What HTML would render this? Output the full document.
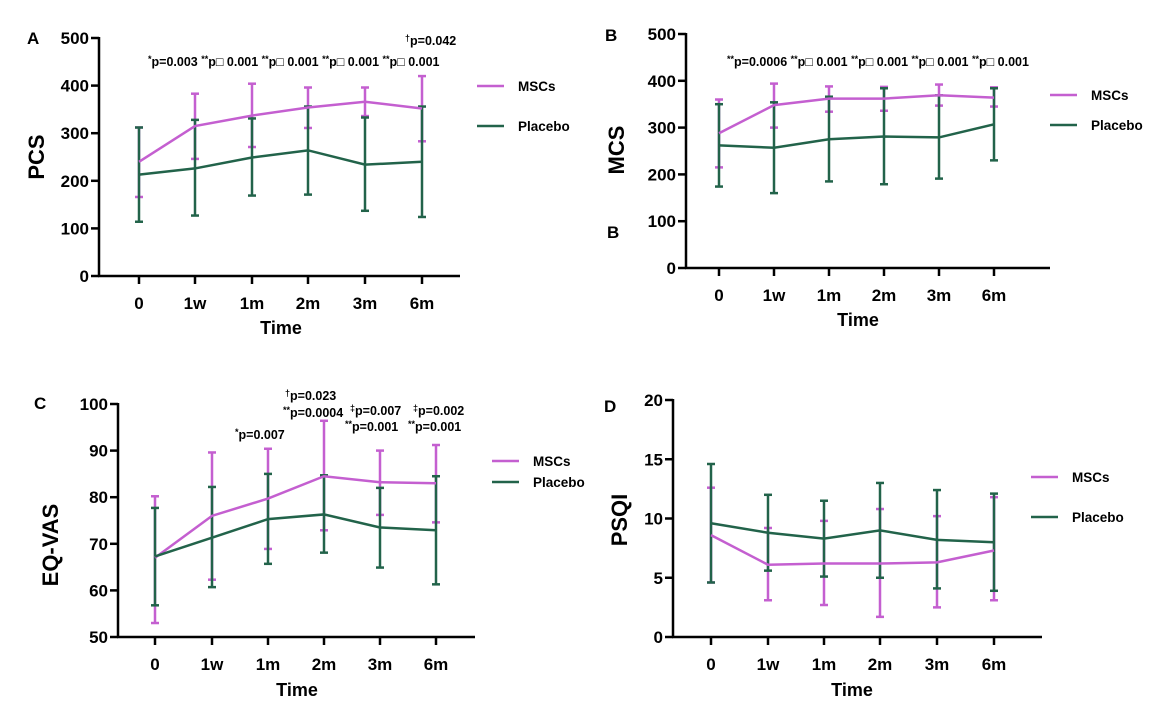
<!DOCTYPE html>
<html><head><meta charset="utf-8">
<style>
html,body{margin:0;padding:0;background:#fff;}
svg{display:block;font-family:"Liberation Sans",Arial,sans-serif;}
.t{font-weight:bold;font-size:17px;}
.p{font-family:"Liberation Sans Narrow","Liberation Sans",sans-serif;font-size:12.5px;font-weight:bold;}
</style></head>
<body>
<svg id="s" width="1162" height="722" viewBox="0 0 1162 722" xmlns="http://www.w3.org/2000/svg"></svg>
<script>
const S=document.getElementById('s');let h='';
const M='#c45fd0',P='#22634a';
function panel(o){
 const {ax,ytop,ybot,ymax,ymin,yt,xs,xend,m,p,lab,lx,ly,yl,ylx,yly,tx,ty,lgx,lgy1,lgy2}=o;
 const Y=v=>ybot-(v-ymin)/(ymax-ymin)*(ybot-ytop);
 h+=`<line x1="${ax}" y1="${ytop-1}" x2="${ax}" y2="${ybot+1}" stroke="#000" stroke-width="2.5"/>`;
 h+=`<line x1="${ax-1}" y1="${ybot}" x2="${xend}" y2="${ybot}" stroke="#000" stroke-width="2.5"/>`;
 yt.forEach(v=>{const y=Y(v);h+=`<line x1="${ax-8}" y1="${y}" x2="${ax}" y2="${y}" stroke="#000" stroke-width="2.5"/><text class="t" x="${ax-10}" y="${y+6}" text-anchor="end">${v}</text>`;});
 const L=['0','1w','1m','2m','3m','6m'];
 xs.forEach((x,i)=>{h+=`<line x1="${x}" y1="${ybot}" x2="${x}" y2="${ybot+8}" stroke="#000" stroke-width="2.5"/><text class="t" x="${x}" y="${ybot+33}" text-anchor="middle">${L[i]}</text>`;});
 [[m,M],[p,P]].forEach(([d,c])=>{
  d[0].forEach((v,i)=>{const x=xs[i];h+=`<line x1="${x}" y1="${Y(d[1][i])}" x2="${x}" y2="${Y(d[2][i])}" stroke="${c}" stroke-width="2.5"/><line x1="${x-4}" y1="${Y(d[1][i])}" x2="${x+4}" y2="${Y(d[1][i])}" stroke="${c}" stroke-width="2.5"/><line x1="${x-4}" y1="${Y(d[2][i])}" x2="${x+4}" y2="${Y(d[2][i])}" stroke="${c}" stroke-width="2.5"/>`;});
 });
 [[m,M],[p,P]].forEach(([d,c])=>{h+=`<polyline fill="none" stroke="${c}" stroke-width="2.5" points="${d[0].map((v,i)=>xs[i]+','+Y(v)).join(' ')}"/>`;});
 h+=`<text class="t" x="${lx}" y="${ly}">${lab}</text>`;
 h+=`<text x="${ylx}" y="${yly}" font-size="22" font-weight="bold" text-anchor="middle" transform="rotate(-90 ${ylx} ${yly})">${yl}</text>`;
 h+=`<text x="${tx}" y="${ty}" font-size="18" font-weight="bold" text-anchor="middle">Time</text>`;
 h+=`<line x1="${lgx}" y1="${lgy1}" x2="${lgx+27}" y2="${lgy1}" stroke="${M}" stroke-width="2.5"/><text x="${lgx+41}" y="${lgy1+5}" font-size="13.5" font-weight="bold">MSCs</text>`;
 h+=`<line x1="${lgx}" y1="${lgy2}" x2="${lgx+27}" y2="${lgy2}" stroke="${P}" stroke-width="2.5"/><text x="${lgx+41}" y="${lgy2+5}" font-size="13.5" font-weight="bold">Placebo</text>`;
}
panel({ax:99,ytop:38,ybot:276,ymax:500,ymin:0,yt:[0,100,200,300,400,500],xs:[139,195,252,308,365,422],xend:460,
 m:[[240,315,337,354,366,352],[312,383,404,396,396,420],[166,246,271,311,336,283]],
 p:[[213,226,249,264,234,240],[312,328,331,356,333,356],[114,127,169,171,137,124]],
 lab:'A',lx:27,ly:44,yl:'PCS',ylx:44,yly:157,tx:281,ty:334,lgx:477,lgy1:86,lgy2:126});
panel({ax:686,ytop:34,ybot:268,ymax:500,ymin:0,yt:[0,100,200,300,400,500],xs:[719,774,829,884,939,994],xend:1050,
 m:[[288,348,362,362,369,364],[360,394,388,387,392,386],[215,300,334,336,347,345]],
 p:[[262,257,275,281,279,307],[350,354,366,384,369,384],[174,160,185,179,191,230]],
 lab:'B',lx:605,ly:41,yl:'MCS',ylx:624,yly:150,tx:858,ty:326,lgx:1050,lgy1:95,lgy2:125});
h+=`<text class="t" x="607" y="238">B</text>`;
panel({ax:118,ytop:404,ybot:637,ymax:100,ymin:50,yt:[50,60,70,80,90,100],xs:[155,212,268,324,380,436],xend:475,
 m:[[67,76,79.7,84.5,83.2,83],[80.2,89.6,90.4,96.4,90,91.2],[53,62.3,68.9,72.9,76.2,74.6]],
 p:[[67.3,71.3,75.3,76.3,73.5,72.9],[77.7,82.2,85,84.7,82,84.5],[56.8,60.7,65.7,68.1,64.9,61.3]],
 lab:'C',lx:34,ly:409,yl:'EQ-VAS',ylx:58,yly:545,tx:297,ty:696,lgx:492,lgy1:461,lgy2:482});
panel({ax:673,ytop:400,ybot:637,ymax:20,ymin:0,yt:[0,5,10,15,20],xs:[711,768,824,880,937,994],xend:1042,
 m:[[8.6,6.1,6.2,6.2,6.3,7.3],[12.6,9.2,9.8,10.8,10.2,11.8],[4.6,3.1,2.7,1.7,2.5,3.1]],
 p:[[9.6,8.8,8.3,9.0,8.2,8.0],[14.6,12,11.5,13,12.4,12.1],[4.6,5.6,5.1,5,4.1,3.9]],
 lab:'D',lx:604,ly:412,yl:'PSQI',ylx:627,yly:520,tx:852,ty:696,lgx:1031,lgy1:477,lgy2:517});
function pt(x,y,s){h+=`<text class="p" x="${x}" y="${y}">${s}</text>`;}
const sp=t=>`<tspan dy="-4" font-size="9">${t}</tspan><tspan dy="4">`;
pt(148,66,sp('*')+'p=0.003 </tspan>'+sp('**')+'p&#9633; 0.001 </tspan>'+sp('**')+'p&#9633; 0.001 </tspan>'+sp('**')+'p&#9633; 0.001 </tspan>'+sp('**')+'p&#9633; 0.001</tspan>');
pt(405,45,sp('†')+'p=0.042</tspan>');
pt(727,66,sp('**')+'p=0.0006 </tspan>'+sp('**')+'p&#9633; 0.001 </tspan>'+sp('**')+'p&#9633; 0.001 </tspan>'+sp('**')+'p&#9633; 0.001 </tspan>'+sp('**')+'p&#9633; 0.001</tspan>');
pt(235,439,sp('*')+'p=0.007</tspan>');
pt(285,400,sp('†')+'p=0.023</tspan>');
pt(283,417,sp('**')+'p=0.0004</tspan>');
pt(350,415,sp('‡')+'p=0.007</tspan>');
pt(345,431,sp('**')+'p=0.001</tspan>');
pt(413,415,sp('‡')+'p=0.002</tspan>');
pt(408,431,sp('**')+'p=0.001</tspan>');
S.innerHTML=h;
</script>
</body></html>
